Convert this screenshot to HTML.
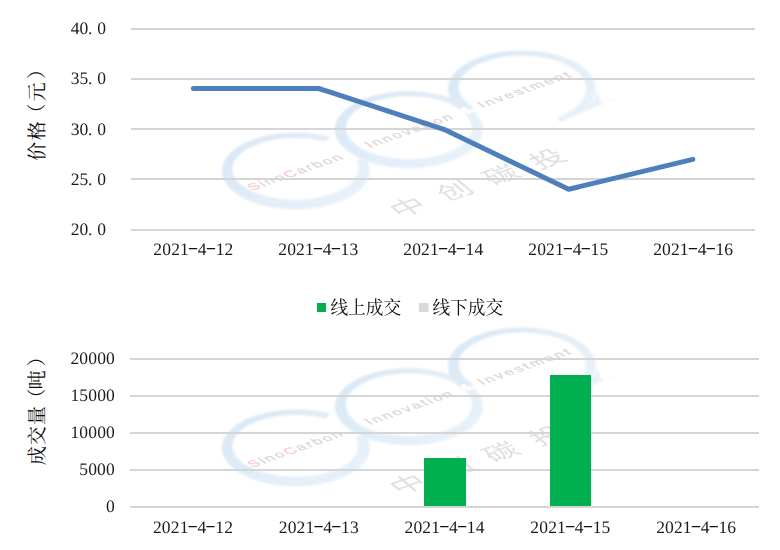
<!DOCTYPE html>
<html lang="zh"><head><meta charset="utf-8"><title>价格与成交量</title>
<style>html,body{margin:0;padding:0;background:#fff}body{width:780px;height:550px;overflow:hidden}svg{display:block}.n{font-family:"Liberation Serif",serif;font-size:17.5px;fill:#1c1c1c;text-anchor:middle;text-rendering:geometricPrecision}.h{fill-opacity:0}.w{font-family:"Liberation Sans",sans-serif;font-size:12px;fill:#d9d9d9;stroke:#d9d9d9;stroke-width:.35px}.r{fill:#f9cccc;stroke:#f9cccc}.a{fill:#fff;stroke:#fff;stroke-width:.8px}</style></head><body>
<svg width="780" height="550" viewBox="0 0 780 550">
<defs>
<linearGradient id="lg" x1="0" y1="0.2" x2="1" y2="0.8"><stop offset="0" stop-color="#d9e7f5"/><stop offset="0.45" stop-color="#e1edf8"/><stop offset="1" stop-color="#e9f2fa"/></linearGradient>
<filter id="bl" x="-5%" y="-5%" width="110%" height="110%"><feGaussianBlur stdDeviation="1.1"/></filter>
<filter id="bt" x="-5%" y="-20%" width="110%" height="140%"><feGaussianBlur stdDeviation="0.45"/></filter>
<g id="wm"><g fill="url(#lg)" filter="url(#bl)"><path d="M366.7 159.6L368.1 162.5L369.1 165.4L369.7 168.3L369.9 171.2L369.6 174.2L368.9 177.1L367.8 180.0L366.3 182.8L364.3 185.6L362.0 188.2L359.2 190.8L356.1 193.3L352.7 195.6L348.9 197.8L344.8 199.8L340.4 201.6L335.8 203.3L330.9 204.8L325.9 206.1L320.6 207.2L315.2 208.1L309.7 208.7L304.1 209.2L298.5 209.4L292.8 209.4L287.2 209.1L281.6 208.7L276.1 208.0L270.7 207.1L265.5 206.0L260.4 204.7L255.6 203.2L251.0 201.5L246.6 199.6L242.6 197.6L238.8 195.4L235.4 193.1L232.3 190.6L229.6 188.0L227.3 185.3L225.4 182.6L223.9 179.7L222.8 176.8L222.1 173.9L221.9 171.0L222.1 168.0L222.7 165.1L223.8 162.2L225.3 159.4L227.2 156.6L229.5 153.9L232.1 151.4L235.2 148.9L238.6 146.5L242.3 144.3L246.4 142.3L250.7 140.4L255.3 138.7L260.2 137.2L265.2 135.9L270.4 134.8L275.8 133.8L281.3 133.2L286.9 132.7L292.5 132.4L298.2 132.4L303.8 132.6L309.4 133.0L314.9 133.7L320.3 134.6L325.6 135.6L330.6 136.9L324.9 141.6L320.6 140.6L316.1 139.7L311.5 139.0L306.8 138.5L302.1 138.2L297.3 138.0L292.5 138.0L287.7 138.2L282.9 138.6L278.3 139.2L273.7 139.9L269.3 140.8L265.0 141.8L260.9 143.1L257.0 144.4L253.3 145.9L249.8 147.6L246.6 149.3L243.7 151.2L241.2 153.2L238.9 155.3L236.9 157.4L235.3 159.7L234.1 161.9L233.2 164.3L232.6 166.6L232.5 169.0L232.6 171.3L233.2 173.7L234.1 176.0L235.4 178.3L237.0 180.5L239.0 182.6L241.3 184.7L243.9 186.7L246.8 188.6L250.0 190.3L253.5 192.0L257.2 193.5L261.1 194.8L265.2 196.0L269.5 197.1L274.0 198.0L278.5 198.7L283.2 199.2L288.0 199.6L292.7 199.8L297.5 199.8L302.3 199.6L307.1 199.3L311.8 198.7L316.3 198.0L320.8 197.2L325.1 196.1L329.3 194.9L333.2 193.6L336.9 192.1L340.4 190.5L343.6 188.7L346.6 186.8L349.2 184.9L351.5 182.8L353.5 180.7L355.2 178.4L356.5 176.2L357.4 173.9L358.0 171.5L358.2 169.2L358.1 166.8L357.6 164.5L356.7 162.1L355.5 159.9Z"/><path d="M482.9 129.6L482.6 133.0L481.8 136.3L480.4 139.6L478.4 142.8L476.0 145.9L473.0 148.8L469.5 151.7L465.6 154.3L461.2 156.8L456.5 159.1L451.3 161.1L445.9 162.9L440.2 164.5L434.2 165.8L428.1 166.8L421.7 167.5L415.3 168.0L408.9 168.1L402.5 168.0L396.1 167.5L389.7 166.8L383.6 165.8L377.6 164.5L371.9 162.9L366.5 161.1L361.3 159.1L356.6 156.8L352.2 154.3L348.3 151.7L344.8 148.8L341.8 145.9L339.4 142.8L337.4 139.6L336.0 136.3L335.2 133.0L334.9 129.6L335.2 126.2L336.0 122.9L337.4 119.6L339.4 116.4L341.8 113.3L344.8 110.3L348.3 107.5L352.2 104.9L356.6 102.4L361.3 100.1L366.5 98.1L371.9 96.3L377.6 94.7L383.6 93.4L389.7 92.4L396.1 91.7L402.5 91.2L408.9 91.1L415.3 91.2L421.7 91.7L428.1 92.4L434.2 93.4L440.2 94.7L445.9 96.3L451.3 98.1L456.5 100.1L461.2 102.4L465.6 104.9L469.5 107.5L473.0 110.3L476.0 113.3L478.4 116.4L480.4 119.6L481.8 122.9L482.6 126.2L482.9 129.6L471.9 127.7L471.7 125.0L470.9 122.2L469.8 119.6L468.1 117.0L466.0 114.4L463.5 112.0L460.5 109.7L457.2 107.5L453.4 105.5L449.4 103.6L445.0 102.0L440.4 100.5L435.5 99.2L430.4 98.2L425.2 97.4L419.8 96.8L414.4 96.4L408.9 96.3L403.4 96.4L398.0 96.8L392.6 97.4L387.4 98.2L382.3 99.2L377.4 100.5L372.8 102.0L368.4 103.6L364.4 105.5L360.6 107.5L357.3 109.7L354.3 112.0L351.8 114.4L349.7 117.0L348.0 119.6L346.9 122.2L346.1 125.0L345.9 127.7L346.1 130.4L346.9 133.2L348.0 135.8L349.7 138.4L351.8 141.0L354.3 143.4L357.3 145.7L360.6 147.9L364.4 149.9L368.4 151.8L372.8 153.4L377.4 154.9L382.3 156.2L387.4 157.2L392.6 158.0L398.0 158.6L403.4 159.0L408.9 159.1L414.4 159.0L419.8 158.6L425.2 158.0L430.4 157.2L435.5 156.2L440.4 154.9L445.0 153.4L449.4 151.8L453.4 149.9L457.2 147.9L460.5 145.7L463.5 143.4L466.0 141.0L468.1 138.4L469.8 135.8L470.9 133.2L471.7 130.4L471.9 127.7Z"/><path d="M465.3 113.6L462.2 111.6L459.4 109.4L456.9 107.2L454.7 104.9L452.7 102.5L451.1 100.0L449.9 97.5L448.9 94.9L448.3 92.3L448.0 89.7L448.1 87.1L448.5 84.5L449.2 82.0L450.3 79.4L451.7 76.9L453.4 74.5L455.4 72.1L457.8 69.8L460.4 67.6L463.3 65.5L466.5 63.5L469.9 61.6L473.6 59.8L477.5 58.2L481.6 56.7L485.8 55.3L490.3 54.1L494.9 53.1L499.6 52.2L504.4 51.5L509.3 51.0L514.3 50.6L519.3 50.4L524.3 50.4L529.3 50.6L534.2 50.9L539.1 51.4L543.9 52.1L548.7 53.0L553.3 54.0L557.7 55.2L562.0 56.5L566.1 58.0L570.1 59.6L573.8 61.4L577.2 63.3L580.4 65.3L583.3 67.4L586.0 69.6L588.4 71.9L590.4 74.2L592.2 76.7L593.6 79.2L594.7 81.7L595.5 84.3L595.9 86.9L596.0 89.5L595.7 92.1L595.2 94.7L594.2 97.2L593.0 99.8L591.4 102.2L589.5 104.6L587.3 107.0L584.8 109.2L582.1 111.4L579.0 113.5L575.7 115.4L572.1 117.2L568.3 118.9L564.3 120.5L560.1 121.9L556.9 117.3L560.6 115.8L564.1 114.3L567.4 112.6L570.4 110.8L573.2 109.0L575.7 107.0L578.0 105.0L580.0 103.0L581.7 100.8L583.2 98.7L584.3 96.5L585.2 94.3L585.7 92.1L586.0 89.8L585.9 87.6L585.6 85.4L585.0 83.3L584.1 81.1L583.2 79.1L581.9 77.0L580.4 75.0L578.7 73.1L576.7 71.2L574.4 69.4L571.9 67.7L569.2 66.1L566.2 64.6L563.0 63.1L559.7 61.8L556.2 60.6L552.5 59.5L548.7 58.5L544.8 57.7L540.7 57.0L536.6 56.5L532.4 56.0L528.2 55.8L523.9 55.6L519.7 55.6L515.4 55.8L511.2 56.1L507.0 56.5L502.9 57.1L498.8 57.8L494.9 58.6L491.1 59.6L487.5 60.7L484.0 61.9L480.6 63.3L477.5 64.7L474.6 66.2L471.9 67.9L469.4 69.6L467.1 71.4L465.1 73.3L463.4 75.2L461.9 77.2L460.7 79.3L459.8 81.3L459.2 83.4L458.9 85.6L458.8 87.7L459.1 89.8L459.6 91.9L460.4 94.0L461.5 96.0L462.9 98.1L464.5 100.0L466.4 101.9L468.6 103.8L471.0 105.5L473.6 107.2Z"/><path d="M558 121.8L602 104.5L597.8 92Q593 109 558 121.8Z" opacity=".85"/><path d="M603 104l3-2m2 0l3-2m2 0l4-2" stroke="#e2edf8" stroke-width="2" stroke-dasharray="2 2" fill="none" opacity=".7"/></g><g filter="url(#bt)"><text class="w" transform="matrix(1.1798 -0.4131 0.8386 0.6319 252.6 190.7)" textLength="77.4" lengthAdjust="spacing"><tspan class="r">S</tspan>ino<tspan class="r">C</tspan>arbon</text><text class="w" transform="matrix(1.1798 -0.4131 0.8386 0.6319 370.0 148.1)" textLength="71.4" lengthAdjust="spacing"><tspan class="r">I</tspan>nnovation</text><text class="w a" transform="matrix(1.1798 -0.4131 0.8386 0.6319 464.8 114.7)">&amp;</text><text class="w" transform="matrix(1.1798 -0.4131 0.8386 0.6319 482.2 108.1)" textLength="76.2" lengthAdjust="spacing"><tspan class="r">I</tspan>nvestment</text><text font-family='"Liberation Sans","Noto Sans CJK SC",sans-serif' font-size="30" fill="#e0e0e0" transform="matrix(0.991 -0.347 0.6257 0.525 399.67 217.99)">中</text><text font-family='"Liberation Sans","Noto Sans CJK SC",sans-serif' font-size="30" fill="#e0e0e0" transform="matrix(0.991 -0.347 0.6257 0.525 446.57 201.59)">创</text><text font-family='"Liberation Sans","Noto Sans CJK SC",sans-serif' font-size="30" fill="#e0e0e0" transform="matrix(0.991 -0.347 0.6257 0.525 492.87 185.79)">碳</text><text font-family='"Liberation Sans","Noto Sans CJK SC",sans-serif' font-size="30" fill="#e0e0e0" transform="matrix(0.991 -0.347 0.6257 0.525 539.47 169.39)">投</text></g></g>
</defs>
<rect width="780" height="550" fill="#fff"/>
<use href="#wm"/>
<use href="#wm" y="277"/>
<g stroke="#d5d5d5" stroke-width="2" fill="none">
<path d="M131 29.0H755"/>
<path d="M131 79.0H755"/>
<path d="M131 129.0H755"/>
<path d="M131 179.0H755"/>
<path d="M131 230.0H755"/>
<path d="M130 359.0H759"/>
<path d="M130 396.0H759"/>
<path d="M130 433.0H759"/>
<path d="M130 470.0H759"/>
<path d="M130 507.0H759"/>
</g>
<polyline points="193.4,88.5 318.7,88.5 443.8,129.3 568.6,189.3 692.8,159.4" fill="none" stroke="#4c7fbc" stroke-width="5" stroke-linecap="round" stroke-linejoin="round"/>
<g fill="#00b050"><rect x="424" y="458" width="42" height="48"/><rect x="550" y="375" width="41" height="131"/></g>
<text class="n" x="75.0 83.8 90.3 101.7" y="34.0">40.0</text>
<text class="n" x="75.0 83.8 90.3 101.7" y="84.0">35.0</text>
<text class="n" x="75.0 83.8 90.3 101.7" y="135.0">30.0</text>
<text class="n" x="75.0 83.8 90.3 101.7" y="185.0">25.0</text>
<text class="n" x="75.0 83.8 90.3 101.7" y="235.0">20.0</text>
<text class="n" x="74.8 83.7 92.5 101.5 110.3" y="364.0">20000</text>
<text class="n" x="74.8 83.7 92.5 101.5 110.3" y="401.0">15000</text>
<text class="n" x="74.8 83.7 92.5 101.5 110.3" y="438.0">10000</text>
<text class="n" x="83.6 92.5 101.4 110.3" y="475.0">5000</text>
<text class="n" x="110.3" y="512.0">0</text>
<text class="n" x="157.7 166.6 175.5 184.4 193.3 202.2 211.1 220.0 228.9" y="255.0">2021<tspan class="h">-</tspan>4<tspan class="h">-</tspan>12</text>
<text class="n" x="282.6 291.6 300.4 309.3 318.2 327.1 336.1 344.9 353.9" y="255.0">2021<tspan class="h">-</tspan>4<tspan class="h">-</tspan>13</text>
<text class="n" x="407.6 416.5 425.4 434.3 443.2 452.1 461.0 469.9 478.8" y="255.0">2021<tspan class="h">-</tspan>4<tspan class="h">-</tspan>14</text>
<text class="n" x="532.6 541.5 550.4 559.3 568.2 577.1 586.0 594.9 603.8" y="255.0">2021<tspan class="h">-</tspan>4<tspan class="h">-</tspan>15</text>
<text class="n" x="657.5 666.4 675.3 684.2 693.1 702.0 710.9 719.8 728.7" y="255.0">2021<tspan class="h">-</tspan>4<tspan class="h">-</tspan>16</text>
<text class="n" x="157.3 166.2 175.1 184.0 192.9 201.8 210.7 219.6 228.5" y="533.0">2021<tspan class="h">-</tspan>4<tspan class="h">-</tspan>12</text>
<text class="n" x="283.1 292.0 300.9 309.8 318.7 327.6 336.5 345.4 354.3" y="533.0">2021<tspan class="h">-</tspan>4<tspan class="h">-</tspan>13</text>
<text class="n" x="408.9 417.8 426.7 435.6 444.5 453.4 462.3 471.2 480.1" y="533.0">2021<tspan class="h">-</tspan>4<tspan class="h">-</tspan>14</text>
<text class="n" x="534.7 543.6 552.5 561.4 570.3 579.2 588.1 597.0 605.9" y="533.0">2021<tspan class="h">-</tspan>4<tspan class="h">-</tspan>15</text>
<text class="n" x="660.5 669.4 678.3 687.2 696.1 705.0 713.9 722.8 731.7" y="533.0">2021<tspan class="h">-</tspan>4<tspan class="h">-</tspan>16</text>
<path d="M188.9 248.5h8.3M206.8 248.5h8.3M313.9 248.5h8.3M331.7 248.5h8.3M438.9 248.5h8.3M456.7 248.5h8.3M563.8 248.5h8.3M581.6 248.5h8.3M688.8 248.5h8.3M706.6 248.5h8.3M188.5 526.5h8.3M206.3 526.5h8.3M314.4 526.5h8.3M332.1 526.5h8.3M440.2 526.5h8.3M458.0 526.5h8.3M566.0 526.5h8.3M583.8 526.5h8.3M691.8 526.5h8.3M709.6 526.5h8.3" stroke="#111" stroke-width="1.25" fill="none"/>
<rect x="317" y="303" width="9" height="9" fill="#00b050"/>
<rect x="419" y="303" width="9.6" height="9" fill="#d9d9d9"/>
<text font-family='"Liberation Serif","Noto Serif CJK SC",serif' font-size="17.7" fill="#0c0c0c" x="330.4 348.1 365.8 383.5" y="313.7">线上成交</text>
<text font-family='"Liberation Serif","Noto Serif CJK SC",serif' font-size="17.7" fill="#0c0c0c" x="432.4 450.1 467.8 485.5" y="313.7">线下成交</text>
<text font-family='"Liberation Serif","Noto Serif CJK SC",serif' font-size="19.2" fill="#0c0c0c" transform="translate(43.8 160.91) rotate(-90)" x="0 20.69 38.2 59.39 81.82" y="0">价格（元）</text>
<text font-family='"Liberation Serif","Noto Serif CJK SC",serif' font-size="19.2" fill="#0c0c0c" transform="translate(44.3 465.17) rotate(-90)" x="0 19.82 39.84 57.36 75.72 98.68" y="0">成交量（吨）</text>
</svg></body></html>
